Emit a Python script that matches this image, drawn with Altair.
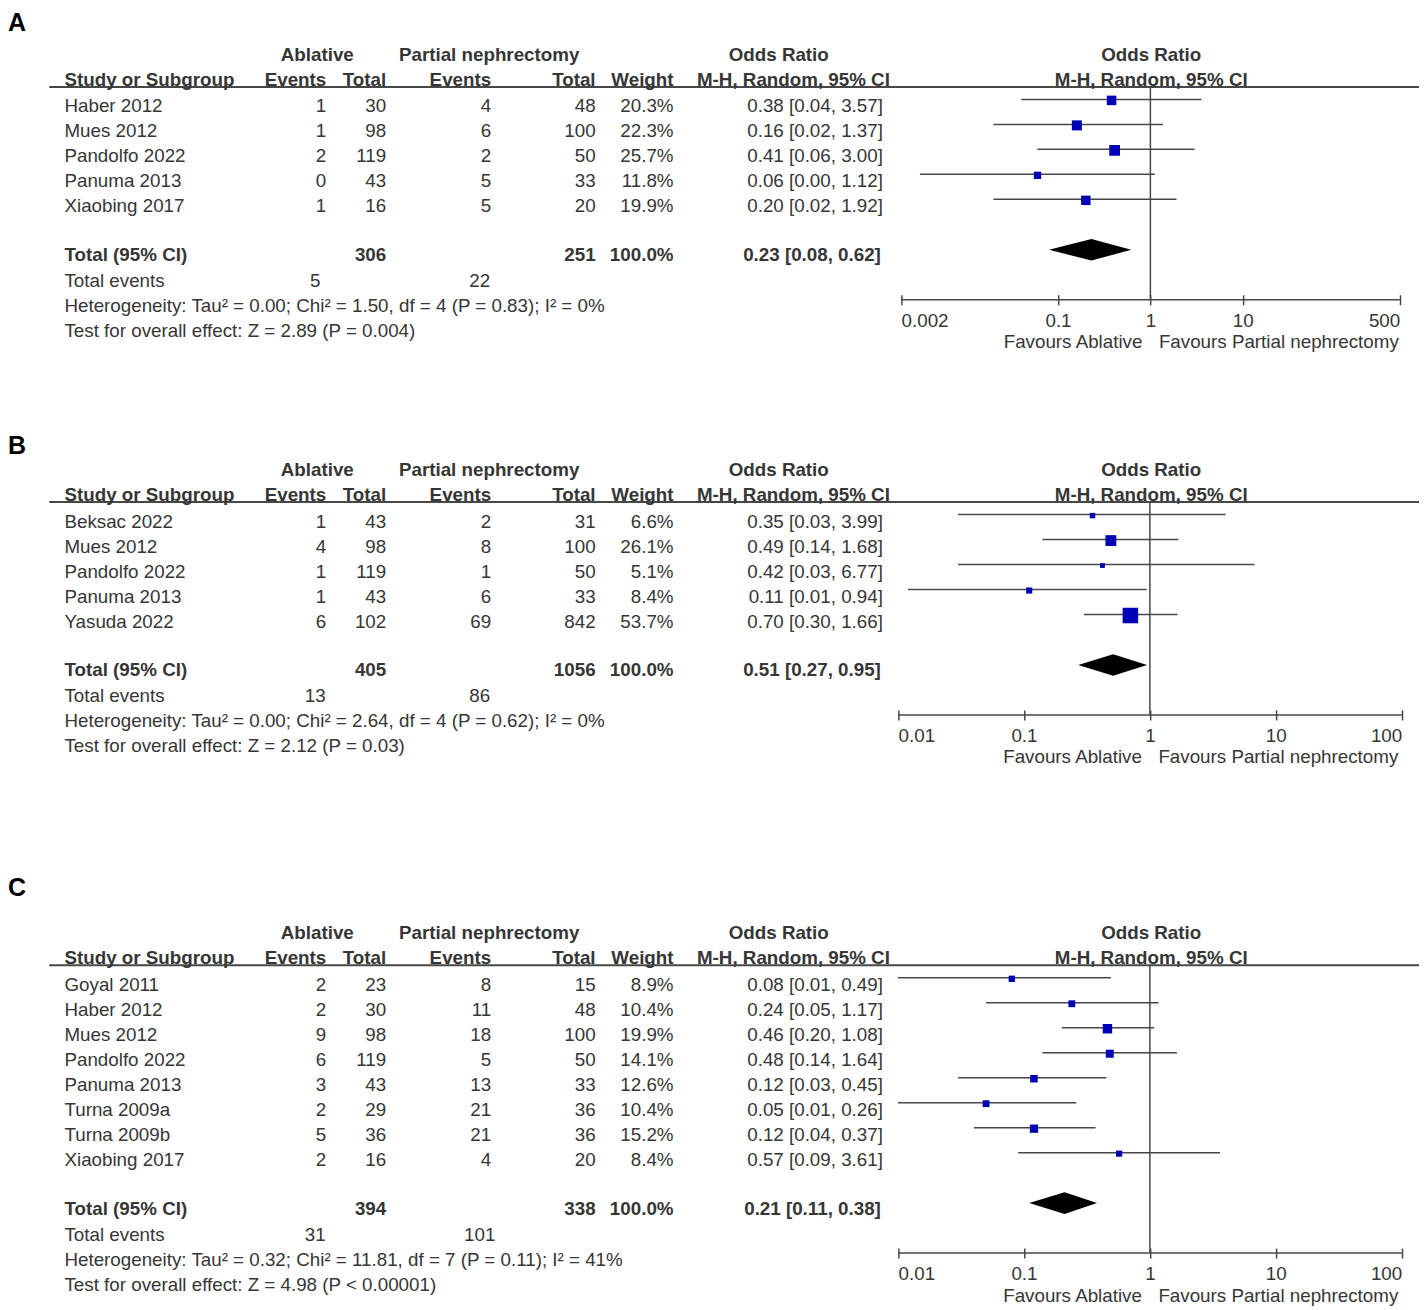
import altair as alt
import pandas as pd

# ------------------------------------------------------------------ data
# Panel A
A_STUDY = ["Haber 2012", "Mues 2012", "Pandolfo 2022", "Panuma 2013", "Xiaobing 2017"]
A_ABL_EV = [1, 1, 2, 0, 1]
A_ABL_TOT = [30, 98, 119, 43, 16]
A_PN_EV = [4, 6, 2, 5, 5]
A_PN_TOT = [48, 100, 50, 33, 20]
A_WEIGHT = [20.3, 22.3, 25.7, 11.8, 19.9]
A_OR = [0.38, 0.16, 0.41, 0.06, 0.20]
A_LO = [0.04, 0.02, 0.06, 0.0032, 0.02]
A_HI = [3.57, 1.37, 3.00, 1.12, 1.92]
A_TOTAL = [0.23, 0.08, 0.62]
A_HET = "Heterogeneity: Tau² = 0.00; Chi² = 1.50, df = 4 (P = 0.83); I² = 0%"
A_TEST = "Test for overall effect: Z = 2.89 (P = 0.004)"
A_TICKS = [0.002, 0.1, 1, 10, 500]

# Panel B
B_STUDY = ["Beksac 2022", "Mues 2012", "Pandolfo 2022", "Panuma 2013", "Yasuda 2022"]
B_ABL_EV = [1, 4, 1, 1, 6]
B_ABL_TOT = [43, 98, 119, 43, 102]
B_PN_EV = [2, 8, 1, 6, 69]
B_PN_TOT = [31, 100, 50, 33, 842]
B_WEIGHT = [6.6, 26.1, 5.1, 8.4, 53.7]
B_OR = [0.35, 0.49, 0.42, 0.11, 0.70]
B_LO = [0.03, 0.14, 0.03, 0.012, 0.30]
B_HI = [3.99, 1.68, 6.77, 0.94, 1.66]
B_TOTAL = [0.51, 0.27, 0.95]
B_HET = "Heterogeneity: Tau² = 0.00; Chi² = 2.64, df = 4 (P = 0.62); I² = 0%"
B_TEST = "Test for overall effect: Z = 2.12 (P = 0.03)"
B_TICKS = [0.01, 0.1, 1, 10, 100]

# Panel C
C_STUDY = ["Goyal 2011", "Haber 2012", "Mues 2012", "Pandolfo 2022", "Panuma 2013",
           "Turna 2009a", "Turna 2009b", "Xiaobing 2017"]
C_ABL_EV = [2, 2, 9, 6, 3, 2, 5, 2]
C_ABL_TOT = [23, 30, 98, 119, 43, 29, 36, 16]
C_PN_EV = [8, 11, 18, 5, 13, 21, 21, 4]
C_PN_TOT = [15, 48, 100, 50, 33, 36, 36, 20]
C_WEIGHT = [8.9, 10.4, 19.9, 14.1, 12.6, 10.4, 15.2, 8.4]
C_OR = [0.08, 0.24, 0.46, 0.48, 0.12, 0.05, 0.12, 0.57]
C_LO = [0.01, 0.05, 0.20, 0.14, 0.03, 0.01, 0.04, 0.09]
C_HI = [0.49, 1.17, 1.08, 1.64, 0.45, 0.26, 0.37, 3.61]
C_TOTAL = [0.21, 0.11, 0.38]
C_HET = "Heterogeneity: Tau² = 0.32; Chi² = 11.81, df = 7 (P = 0.11); I² = 41%"
C_TEST = "Test for overall effect: Z = 4.98 (P < 0.00001)"
C_TICKS = [0.01, 0.1, 1, 10, 100]

TOTAL_WEIGHT = 100.0
HEAD1 = ["Ablative", "Partial nephrectomy", "Odds Ratio", "Odds Ratio"]
HEAD2 = ["Study or Subgroup", "Events", "Total", "Events", "Total", "Weight",
         "M-H, Random, 95% CI", "M-H, Random, 95% CI"]
FAVOURS = ["Favours Ablative", "Favours Partial nephrectomy"]

# ------------------------------------------------------------------ style / layout
FONT = "Liberation Sans"
FS = 18.8
TXT = "#363636"
LINE = "#474747"
BLUE = "#0000B4"
M = 8          # page margin
W = 1412       # plot width

# column anchors (page x)
COLX = dict(study=64.5, abl_ev=326.5, abl_tot=386.5, pn_ev=491.5, pn_tot=596,
            weight=674, ci=883.5, ci_tot=881.5, h_abl=317.5, h_pn=489.5,
            h_or=779.3, h_mh=890.5, f_hd=1152, te_abl=315.5, te_pn=480,
            line0=49.3, line1=1420)
H1_COLS = [("h_abl", "center"), ("h_pn", "center"), ("h_or", "center"), ("f_hd", "center")]
H2_COLS = [("study", "left"), ("abl_ev", "right"), ("abl_tot", "right"), ("pn_ev", "right"),
           ("pn_tot", "right"), ("weight", "right"), ("h_mh", "right"), ("f_hd", "center")]


def fmt_ci(o, l, h):
    return f"{o:.2f} [{l:.2f}, {h:.2f}]"


def panel(label, label_base, h1, study, aev, atot, pev, ptot, wt, orr, lo, hi, total,
          het, test, ticks, xrange_px, top, axis_y):
    H = axis_y - top
    ys = alt.Scale(domain=[0, H], range=[0, H], nice=False, zero=False)
    xs = alt.Scale(type="log", domain=[ticks[0], ticks[-1]],
                   range=[xrange_px[0] - M, xrange_px[1] - M], nice=False)
    AX = alt.Axis(values=ticks, format="~g", labelFlush=True, labelFont=FONT,
                  labelFontSize=FS, labelColor=TXT, tickColor=LINE, tickWidth=1.5,
                  tickSize=10, domain=False, grid=False, offset=-5, labelPadding=6.3,
                  title=None, labelOverlap=False)

    def L(v):
        return v - top

    n = len(study)
    base = [h1 + 51.5 + 25 * i for i in range(n)]
    h2 = h1 + 25
    line_y = h2 + 1
    tot_y = base[-1] + 49
    ev_y = tot_y + 26
    het_y = ev_y + 25
    test_y = het_y + 25

    layers = []

    # header separator line
    layers.append(
        alt.Chart(pd.DataFrame({"y": [L(line_y)]})).mark_rule(color=LINE, strokeWidth=2)
        .encode(x=alt.value(COLX["line0"] - M), x2=alt.value(COLX["line1"] - M),
                y=alt.Y("y:Q", scale=ys, axis=None)))

    # vertical line of no effect
    layers.append(
        alt.Chart(pd.DataFrame({"x": [1.0], "y": [L(line_y)], "y2": [H]}))
        .mark_rule(color=LINE, strokeWidth=1.5)
        .encode(x=alt.X("x:Q", scale=xs, axis=AX), y=alt.Y("y:Q", scale=ys, axis=None),
                y2="y2:Q"))

    # axis line
    layers.append(
        alt.Chart(pd.DataFrame({"x": [ticks[0]], "x2": [ticks[-1]], "y": [H]}))
        .mark_rule(color=LINE, strokeWidth=1.5)
        .encode(x=alt.X("x:Q", scale=xs, axis=AX), x2="x2:Q",
                y=alt.Y("y:Q", scale=ys, axis=None)))

    fdf = pd.DataFrame({"or": orr, "lo": lo, "hi": hi, "w": wt,
                        "yl": [L(b - 13) for b in base], "ysq": [L(b - 12) for b in base]})
    layers.append(
        alt.Chart(fdf).mark_rule(color=LINE, strokeWidth=1.5)
        .encode(x=alt.X("lo:Q", scale=xs, axis=AX), x2="hi:Q",
                y=alt.Y("yl:Q", scale=ys, axis=None)))
    layers.append(
        alt.Chart(fdf).mark_square(color=BLUE, opacity=1)
        .encode(x=alt.X("or:Q", scale=xs, axis=AX), y=alt.Y("ysq:Q", scale=ys, axis=None),
                size=alt.Size("w:Q", scale=alt.Scale(domain=[0, 100], range=[0, 450]),
                              legend=None)))

    # pooled diamond
    c = L(tot_y - 11.5)
    hh = 10.8
    ddf = pd.DataFrame({"x": [total[1], total[0], total[2]],
                        "y1": [c, c - hh, c], "y2": [c, c + hh, c]})
    layers.append(
        alt.Chart(ddf).mark_area(color="black", opacity=1, interpolate="linear")
        .encode(x=alt.X("x:Q", scale=xs, axis=AX), y=alt.Y("y1:Q", scale=ys, axis=None),
                y2="y2:Q"))

    # favours labels
    fav = pd.DataFrame({"x": [1.0], "y": [L(axis_y + 48.5)]})
    for txt, align, dx in [(FAVOURS[0], "right", -8), (FAVOURS[1], "left", 8.5)]:
        layers.append(
            alt.Chart(fav).mark_text(align=align, baseline="alphabetic", dx=dx, font=FONT,
                                     fontSize=FS, color=TXT, text=txt)
            .encode(x=alt.X("x:Q", scale=xs, axis=AX), y=alt.Y("y:Q", scale=ys, axis=None)))

    def text(yimg, texts, key, align, bold=False, size=FS):
        df = pd.DataFrame({"y": [L(v) for v in yimg], "text": [str(t) for t in texts]})
        layers.append(
            alt.Chart(df).mark_text(align=align, baseline="alphabetic", font=FONT,
                                    fontSize=size, fontWeight="bold" if bold else "normal",
                                    color=TXT)
            .encode(x=alt.value(COLX[key] - M),
                    y=alt.Y("y:Q", scale=ys, axis=None), text="text:N"))

    # panel letter
    df = pd.DataFrame({"y": [L(label_base)], "text": [label]})
    layers.append(
        alt.Chart(df).mark_text(align="left", baseline="alphabetic", font=FONT, fontSize=25,
                                fontWeight="bold", color="black")
        .encode(x=alt.value(0), y=alt.Y("y:Q", scale=ys, axis=None), text="text:N"))

    # headers
    for t, (k, a) in zip(HEAD1, H1_COLS):
        text([h1], [t], k, a, bold=True)
    for t, (k, a) in zip(HEAD2, H2_COLS):
        text([h2], [t], k, a, bold=True)

    # study rows
    text(base, study, "study", "left")
    text(base, aev, "abl_ev", "right")
    text(base, atot, "abl_tot", "right")
    text(base, pev, "pn_ev", "right")
    text(base, ptot, "pn_tot", "right")
    text(base, [f"{w:.1f}%" for w in wt], "weight", "right")
    text(base, [fmt_ci(o, l, h) for o, l, h in zip(orr, lo, hi)], "ci", "right")

    # total row
    text([tot_y], ["Total (95% CI)"], "study", "left", bold=True)
    text([tot_y], [sum(atot)], "abl_tot", "right", bold=True)
    text([tot_y], [sum(ptot)], "pn_tot", "right", bold=True)
    text([tot_y], [f"{TOTAL_WEIGHT:.1f}%"], "weight", "right", bold=True)
    text([tot_y], [fmt_ci(*total)], "ci_tot", "right", bold=True)

    # total events + statistics
    text([ev_y], ["Total events"], "study", "left")
    text([ev_y], [sum(aev)], "te_abl", "center")
    text([ev_y], [sum(pev)], "te_pn", "center")
    text([het_y, test_y], [het, test], "study", "left")

    return alt.layer(*layers).properties(width=W, height=H)


A_AXIS = 299.5
B_AXIS = 714.5
C_AXIS = 1253

pA = panel("A", 31, 60.5, A_STUDY, A_ABL_EV, A_ABL_TOT, A_PN_EV, A_PN_TOT, A_WEIGHT,
           A_OR, A_LO, A_HI, A_TOTAL, A_HET, A_TEST, A_TICKS, (901.7, 1400.7), M, A_AXIS)
pB = panel("B", 453, 475.5, B_STUDY, B_ABL_EV, B_ABL_TOT, B_PN_EV, B_PN_TOT, B_WEIGHT,
           B_OR, B_LO, B_HI, B_TOTAL, B_HET, B_TEST, B_TICKS, (898.7, 1402.7), A_AXIS, B_AXIS)
pC = panel("C", 896, 939, C_STUDY, C_ABL_EV, C_ABL_TOT, C_PN_EV, C_PN_TOT, C_WEIGHT,
           C_OR, C_LO, C_HI, C_TOTAL, C_HET, C_TEST, C_TICKS, (898.7, 1402.7), B_AXIS, C_AXIS)

chart = (alt.vconcat(pA, pB, pC, spacing=0, bounds="flush")
         .properties(padding=0, background="white")
         .configure_view(stroke=None))

chart.save("out.html", embed_options={"renderer": "svg", "actions": False})
